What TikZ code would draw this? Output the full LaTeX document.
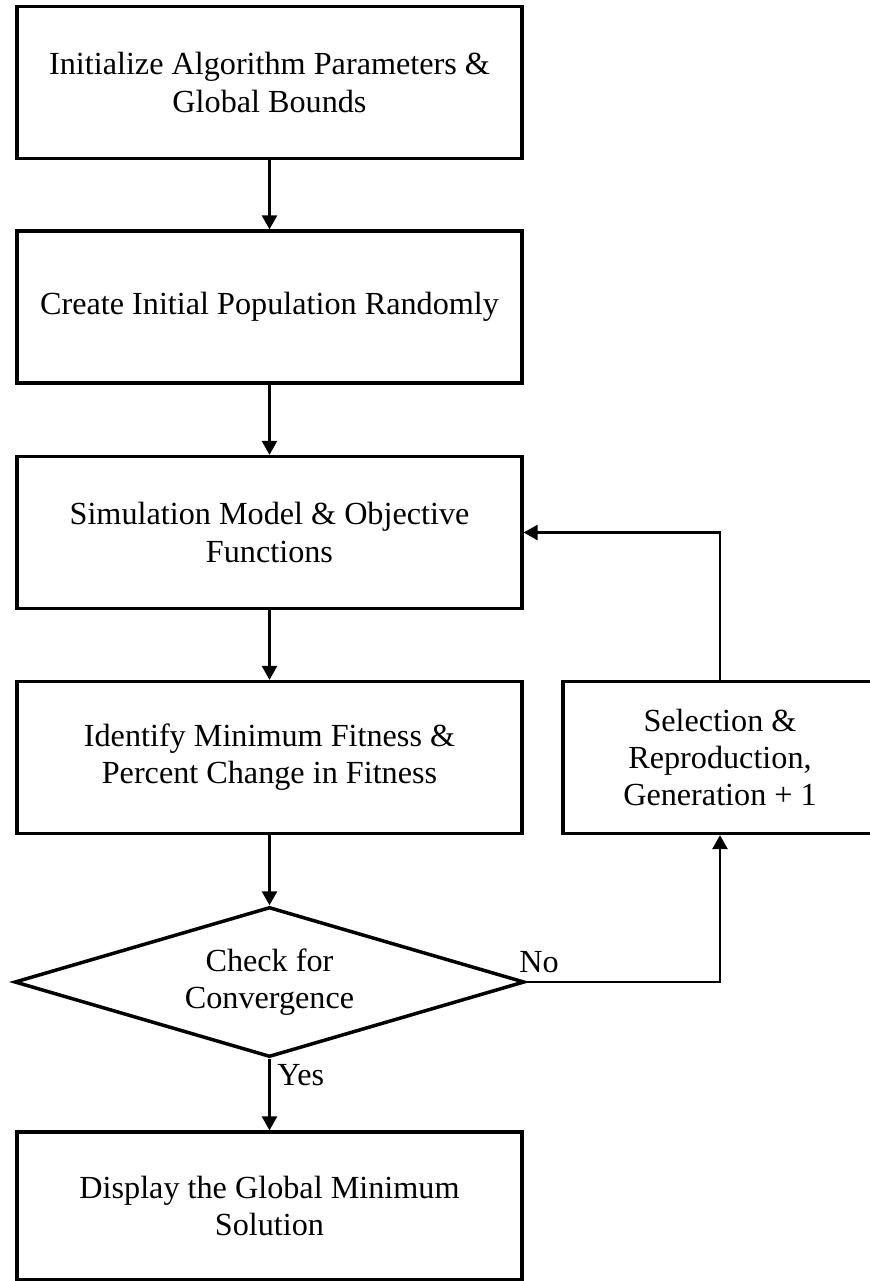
\documentclass[tikz,border=0pt]{standalone}
\usepackage{fontspec}
\setmainfont{Liberation Serif}
\usetikzlibrary{arrows.meta,shapes.geometric}

\tikzset{
  every node/.style={font=\fontsize{16.1pt}{18.6pt}\selectfont},
  stepbox/.style={draw, line width=1.65pt, rectangle, align=center,
    minimum width=252.5pt, minimum height=76pt, inner sep=0pt},
  sidebox/.style={draw, line width=1.65pt, rectangle, align=center,
    minimum width=157pt, minimum height=76pt, inner sep=0pt},
  decision/.style={draw, line width=1.75pt, diamond, align=center,
    minimum width=255pt, minimum height=75pt, inner sep=0pt, aspect=3.4},
  flow/.style={line width=1.35pt, -{Triangle[width=7.5pt,length=7pt]}},
  lbl/.style={inner sep=0pt}
}

\begin{document}
\begin{tikzpicture}[x=0.5pt, y=-0.5pt]
  \useasboundingbox (0,0) rectangle (869,1281);

  % main column
  \node[stepbox] (init) at (269.5,82.5) {Initialize Algorithm Parameters \&\\Global Bounds};
  \node[stepbox] (pop)  at (269.5,307)  {Create Initial Population Randomly};
  \node[stepbox] (sim)  at (269.5,532.5) {Simulation Model \& Objective\\Functions};
  \node[stepbox] (fit)  at (269.5,757.5) {Identify Minimum Fitness \&\\Percent Change in Fitness};
  \node[decision] (conv) at (269.5,982) {Check for\\Convergence};
  \node[stepbox, minimum height=74pt] (out) at (269.5,1206) {Display the Global Minimum\\Solution};

  % side branch
  \node[sidebox] (sel) at (720,757.5) {Selection \&\\Reproduction,\\Generation + 1};

  % connectors
  \draw[flow] (init) -- (pop);
  \draw[flow] (pop) -- (sim);
  \draw[flow] (sim) -- (fit);
  \draw[flow] (fit) -- (conv);
  \draw[flow] (conv) -- (out);
  \draw[flow] (conv.east) -| (sel.south);
  \draw[flow] (sel.north) |- (sim.east);

  % branch labels
  \node[lbl, anchor=base west] (no)  at (519,972)  {No};
  \node[lbl, anchor=base west] (yes) at (277,1085) {Yes};
\end{tikzpicture}
\end{document}
